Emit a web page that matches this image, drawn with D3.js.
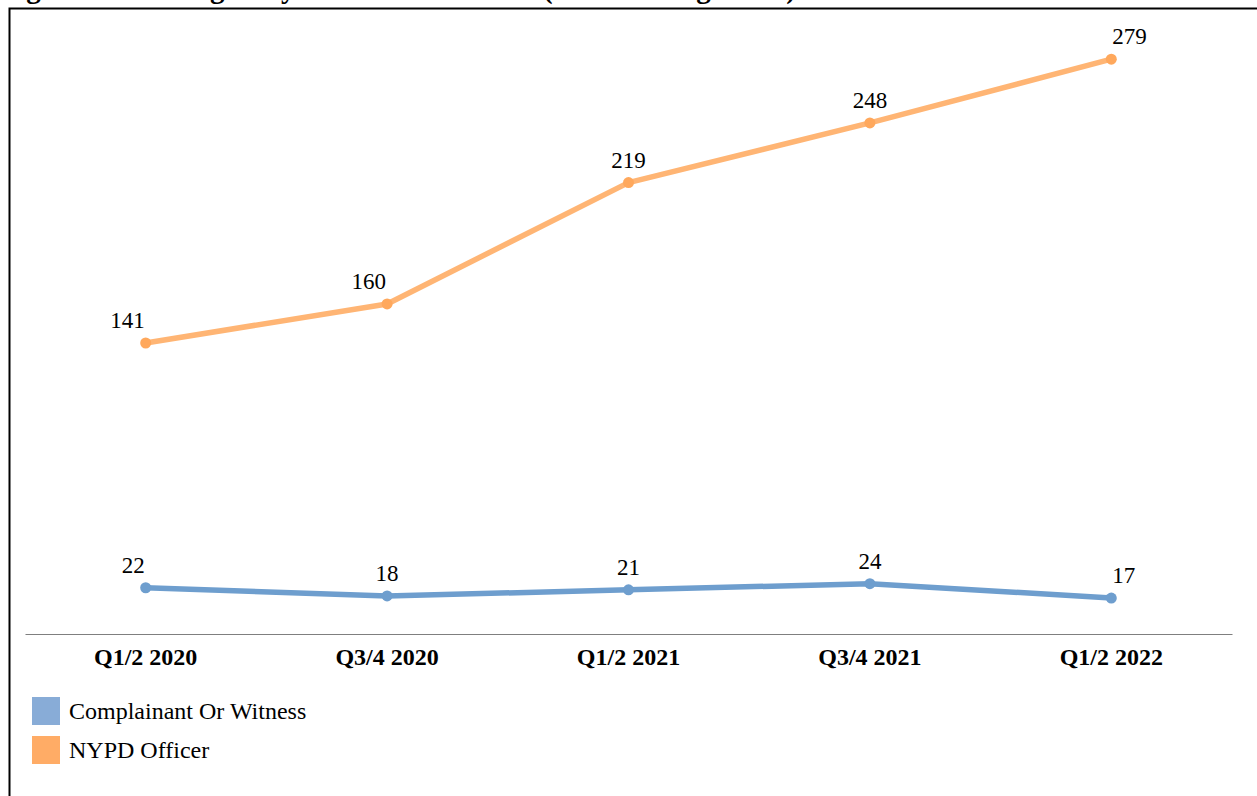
<!DOCTYPE html>
<html><head><meta charset="utf-8">
<script src="https://cdn.jsdelivr.net/npm/d3@7"></script>
<style>body{margin:0;background:#fff;}svg{display:block;}</style>
</head><body>
<svg id="c" width="1257" height="796"></svg>
<script>
const categories = ["Q1/2 2020", "Q3/4 2020", "Q1/2 2021", "Q3/4 2021", "Q1/2 2022"];
const complainantValues = [22, 18, 21, 24, 17];
const officerValues = [141, 160, 219, 248, 279];
const seriesNames = ["Complainant Or Witness", "NYPD Officer"];
const titleText = "Figure 10: Average Days to First Interview (Full Investigations)";

const svg = d3.select("#c");
const font = "'Liberation Serif', 'DejaVu Serif', serif";
const lineColors = ["#6E9ECE", "#FFB574"];
const dotColors = ["#6E9ECE", "#FFA85C"];
const swatchColors = ["#88ACD7", "#FFAC66"];
const labelAnchors = [
  ["end", "middle", "middle", "middle", "start"],
  ["end", "end", "middle", "middle", "start"]
];

// cut-off title (only descenders peek in, as in the reference)
svg.append("text").attr("x", 0).attr("y", -2)
  .attr("font-family", font).attr("font-weight", "bold").attr("font-size", 29)
  .attr("textLength", 796).attr("lengthAdjust", "spacing")
  .attr("fill", "#000").text(titleText);

// frame
svg.append("path").attr("d", "M9.5,796 V8.5 H1257").attr("fill", "none").attr("stroke", "#000").attr("stroke-width", 2);

const x = d3.scaleBand().domain(categories).range([25, 1232]);
const y = d3.scaleLinear().domain([0, 300]).range([633, 16]);
const cx = i => x(categories[i]) + x.bandwidth() / 2;

// axis
const ax = svg.append("g").attr("transform", "translate(0,634)")
  .call(d3.axisBottom(x).tickSize(0).tickPadding(31));
ax.select(".domain").attr("stroke", "#7f7f7f").attr("stroke-width", 1.2);
ax.selectAll("text").attr("font-family", font).attr("font-weight", "bold")
  .attr("font-size", 24).attr("fill", "#000").attr("dy", "0");

const series = [complainantValues, officerValues];
const line = d3.line().x((d, i) => cx(i)).y(d => y(d));

series.forEach((vals, s) => {
  svg.append("path").datum(vals).attr("d", line).attr("fill", "none")
    .attr("stroke", lineColors[s]).attr("stroke-width", 5.5).attr("stroke-linejoin", "round");
  svg.selectAll(null).data(vals).enter().append("circle")
    .attr("cx", (d, i) => cx(i))
    .attr("cy", d => y(d)).attr("r", 5.5).attr("fill", dotColors[s]);
  svg.selectAll(null).data(vals).enter().append("text")
    .attr("x", (d, i) => cx(i) + (labelAnchors[s][i] === "end" ? -1 : labelAnchors[s][i] === "start" ? 1 : 0))
    .attr("y", d => y(d) - 15)
    .attr("text-anchor", (d, i) => labelAnchors[s][i]).attr("font-family", font).attr("font-size", 23)
    .attr("fill", "#000").text(d => d);
});

// legend
seriesNames.forEach((n, i) => {
  const gy = 697 + i * 39;
  svg.append("rect").attr("x", 32).attr("y", gy).attr("width", 28).attr("height", 28).attr("fill", swatchColors[i]);
  svg.append("text").attr("x", 69).attr("y", gy + 22).attr("font-family", font)
    .attr("font-size", 24).attr("fill", "#000").text(n);
});
</script>
</body></html>
